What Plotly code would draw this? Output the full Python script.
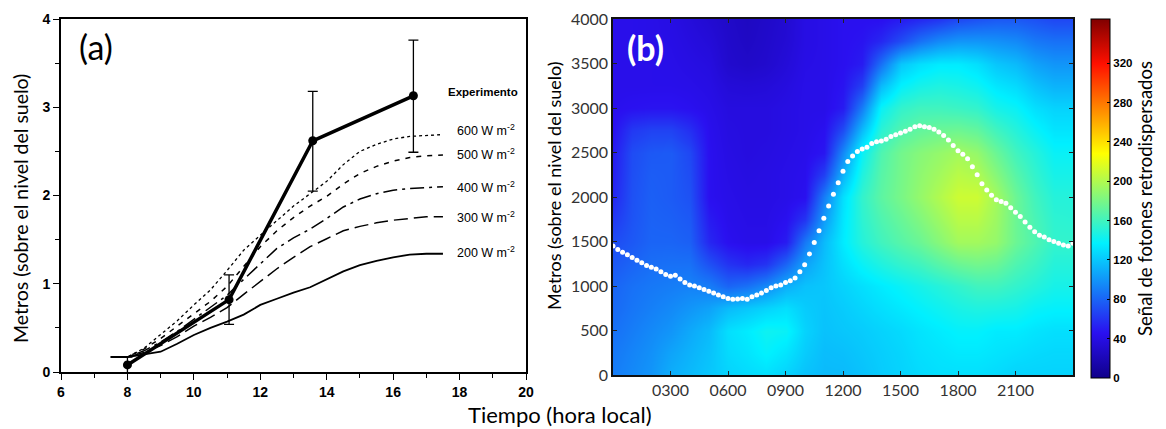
import plotly.graph_objects as go

# ---------------- Panel (a) data ----------------
t_model = [7.5, 8.0, 8.5, 9.0, 9.5, 10.0, 10.5, 11.0, 11.5, 12.0, 12.5, 13.0, 13.5,
           14.0, 14.5, 15.0, 15.5, 16.0, 16.5, 17.0, 17.5]
h600 = [0.17, 0.17, 0.27, 0.42, 0.58, 0.76, 0.93, 1.15, 1.38, 1.55, 1.72, 1.88, 2.02,
        2.16, 2.35, 2.50, 2.58, 2.64, 2.67, 2.68, 2.69]
h500 = [0.17, 0.17, 0.26, 0.38, 0.52, 0.66, 0.80, 0.97, 1.20, 1.42, 1.60, 1.75, 1.88,
        1.99, 2.13, 2.25, 2.33, 2.39, 2.43, 2.45, 2.46]
h400 = [0.17, 0.17, 0.24, 0.34, 0.46, 0.60, 0.73, 0.87, 1.05, 1.23, 1.40, 1.52, 1.62,
        1.74, 1.87, 1.96, 2.02, 2.06, 2.08, 2.09, 2.10]
h300 = [0.17, 0.17, 0.22, 0.30, 0.40, 0.52, 0.62, 0.73, 0.88, 1.03, 1.17, 1.30, 1.42,
        1.51, 1.60, 1.65, 1.69, 1.72, 1.74, 1.76, 1.76]
h200 = [0.17, 0.17, 0.20, 0.23, 0.32, 0.42, 0.50, 0.57, 0.65, 0.76, 0.83, 0.90, 0.96,
        1.05, 1.14, 1.21, 1.26, 1.30, 1.33, 1.34, 1.34]

t_exp = [8.0, 11.06, 13.58, 16.61]
h_exp = [0.08, 0.82, 2.62, 3.13]
err_up = [0.09, 0.28, 0.56, 0.63]
err_dn = [0.09, 0.28, 0.57, 0.64]

flux_labels = ["600 W m<sup>-2</sup>", "500 W m<sup>-2</sup>", "400 W m<sup>-2</sup>",
               "300 W m<sup>-2</sup>", "200 W m<sup>-2</sup>"]
label_y = [2.74, 2.47, 2.10, 1.76, 1.36]

# ---------------- Panel (b) data ----------------
hours = list(range(0, 25))
heights = [0, 250, 500, 750, 1000, 1250, 1500, 1750, 2000, 2250, 2500, 2750,
           3000, 3250, 3500, 3750, 4000]
signal = [
    [90, 95, 100, 110, 115, 120, 125, 128, 130, 125, 118, 115, 115, 118, 122, 125, 128, 130, 130, 130, 128, 125, 125, 125, 125],
    [88, 93, 98, 106, 112, 118, 128, 132, 138, 132, 122, 116, 117, 120, 123, 126, 130, 132, 134, 134, 132, 130, 128, 127, 127],
    [85, 90, 95, 100, 108, 115, 130, 135, 142, 140, 125, 118, 120, 122, 125, 128, 132, 135, 138, 138, 135, 135, 132, 130, 130],
    [82, 87, 91, 95, 100, 105, 115, 120, 125, 130, 122, 119, 122, 126, 130, 134, 138, 142, 146, 148, 147, 145, 140, 138, 138],
    [80, 85, 88, 90, 92, 90, 80, 85, 95, 110, 118, 120, 125, 130, 135, 140, 145, 150, 155, 160, 160, 155, 150, 145, 145],
    [75, 80, 84, 85, 85, 72, 60, 55, 60, 80, 105, 118, 130, 140, 148, 155, 160, 168, 175, 178, 175, 165, 158, 150, 150],
    [70, 75, 80, 80, 78, 55, 45, 42, 42, 50, 88, 115, 135, 150, 160, 168, 175, 185, 195, 195, 190, 175, 165, 155, 155],
    [62, 73, 79, 78, 75, 50, 43, 41, 41, 45, 60, 102, 133, 153, 165, 174, 183, 193, 203, 203, 193, 175, 163, 153, 152],
    [55, 72, 78, 76, 72, 45, 42, 40, 40, 42, 45, 90, 130, 155, 170, 180, 190, 200, 210, 210, 195, 175, 160, 150, 150],
    [52, 71, 77, 76, 70, 45, 41, 39, 40, 42, 44, 65, 112, 148, 168, 179, 188, 195, 203, 200, 185, 168, 155, 145, 145],
    [50, 70, 75, 76, 68, 45, 40, 38, 39, 41, 43, 48, 95, 140, 165, 178, 185, 190, 195, 190, 175, 160, 150, 140, 140],
    [46, 62, 66, 66, 58, 44, 39, 38, 38, 40, 42, 45, 70, 115, 152, 166, 172, 175, 176, 172, 160, 150, 140, 132, 132],
    [44, 46, 47, 47, 45, 42, 38, 38, 38, 40, 42, 42, 50, 90, 140, 155, 160, 160, 158, 155, 145, 140, 130, 125, 125],
    [43, 43, 43, 43, 42, 40, 35, 34, 35, 38, 42, 42, 47, 65, 115, 138, 145, 148, 146, 142, 133, 128, 118, 112, 112],
    [43, 43, 43, 42, 40, 38, 30, 28, 30, 35, 41, 42, 45, 50, 85, 120, 130, 135, 135, 130, 120, 115, 105, 100, 100],
    [43, 43, 42, 41, 38, 35, 29, 26, 29, 33, 40, 42, 45, 47, 55, 70, 85, 95, 100, 100, 98, 95, 88, 85, 85],
    [43, 43, 42, 40, 36, 32, 28, 25, 28, 32, 40, 42, 45, 45, 45, 50, 55, 60, 68, 72, 75, 75, 72, 68, 68],
]

mix_t = [i * 0.25 for i in range(97)]
mix_h = [1450, 1410, 1380, 1350, 1320, 1290, 1260, 1230, 1210, 1190, 1160, 1130, 1110,
         1120, 1080, 1040, 1010, 1000, 980, 960, 940, 920, 900, 880, 860, 850, 855, 860,
         850, 880, 900, 920, 950, 980, 1000, 1010, 1040, 1060, 1090, 1160, 1240, 1360,
         1490, 1620, 1760, 1900, 2030, 2160, 2290, 2400, 2460, 2510, 2540, 2560, 2600,
         2620, 2630, 2650, 2680, 2700, 2720, 2740, 2760, 2790, 2800, 2790, 2780, 2760,
         2730, 2690, 2640, 2580, 2520, 2480, 2430, 2340, 2250, 2150, 2080, 2020, 1970,
         1950, 1930, 1880, 1830, 1780, 1720, 1660, 1610, 1570, 1550, 1520, 1500, 1480,
         1460, 1450, 1480]

xtick_vals_b = [3, 6, 9, 12, 15, 18, 21]
xtick_text_b = ["0300", "0600", "0900", "1200", "1500", "1800", "2100"]
cbar_ticks = [0, 40, 80, 120, 160, 200, 240, 280, 320]

# The page body has an 8px margin; positions below are in window pixels
OFF = 8
W, H = 1158, 430
def px(x):
    return (x - OFF) / W
def py(y):
    return 1 - (y - OFF) / H

fig = go.Figure()

# ---- panel (a) traces ----
styles = [
    (h600, dict(color="black", width=1.3, dash="dot")),
    (h500, dict(color="black", width=1.5, dash="5px,6px")),
    (h400, dict(color="black", width=1.5, dash="14px,5px,3px,5px")),
    (h300, dict(color="black", width=1.5, dash="14px,6px")),
    (h200, dict(color="black", width=1.8)),
]
for hv, ln in styles:
    fig.add_trace(go.Scatter(x=t_model, y=hv, mode="lines", line=ln,
                             xaxis="x", yaxis="y", showlegend=False, hoverinfo="skip"))

fig.add_trace(go.Scatter(
    x=t_exp, y=h_exp, mode="lines+markers",
    line=dict(color="black", width=3.5),
    marker=dict(color="black", size=9),
    error_y=dict(type="data", symmetric=False, array=err_up, arrayminus=err_dn,
                 color="black", thickness=1.3, width=5),
    xaxis="x", yaxis="y", showlegend=False))

# ---- panel (b) traces ----
jet = [[0.0, "#10008a"], [0.125, "#2a10f0"], [0.375, "#00f0ff"], [0.625, "#ffff00"],
       [0.875, "#ff1000"], [1.0, "#800000"]]
fig.add_trace(go.Heatmap(
    x=hours, y=heights, z=signal, zmin=0, zmax=365, zsmooth="best",
    colorscale=jet, xaxis="x2", yaxis="y2",
    colorbar=dict(
        x=px(1091), xanchor="left", xpad=0, ypad=0,
        y=py(378), yanchor="bottom", len=(378 - 19) / H, lenmode="fraction",
        thickness=19, outlinecolor="black", outlinewidth=1,
        tickvals=cbar_ticks, ticks="inside", ticklen=3, tickcolor="black",
        tickfont=dict(family="Liberation Sans", size=11.5, color="black", weight="bold"),
        title=dict(text="Señal de fotones retrodispersados", side="right",
                   font=dict(family="Lato", size=18.5, color="black")),
    ),
    hoverinfo="skip"))

fig.add_trace(go.Scatter(
    x=mix_t, y=mix_h, mode="markers",
    marker=dict(color="white", size=5, line=dict(width=0)),
    xaxis="x2", yaxis="y2", showlegend=False, hoverinfo="skip"))

# ---- annotations ----
C = dict(xanchor="center", yanchor="middle", showarrow=False)
ann = []
ann.append(dict(x=7.05, y=3.69, xref="x", yref="y", text="(a)",
                font=dict(family="Lato", size=34, color="black"), **C))
ann.append(dict(x=18.7, y=3.17, xref="x", yref="y", text="Experimento",
                font=dict(family="Liberation Sans", size=11.5, color="black", weight="bold"), **C))
for txt, yy in zip(flux_labels, label_y):
    ann.append(dict(x=18.8, y=yy, xref="x", yref="y", text=txt,
                    font=dict(family="Liberation Sans", size=12.5, color="black"), **C))
ann.append(dict(x=1.72, y=3680, xref="x2", yref="y2", text="<b>(b)</b>",
                font=dict(family="Lato", size=34, color="white"), **C))
ann.append(dict(x=px(560), y=py(414), xref="paper", yref="paper",
                text="Tiempo (hora local)",
                font=dict(family="Lato", size=22, color="black"), **C))
ann.append(dict(x=px(20), y=py(209), xref="paper", yref="paper", textangle=-90,
                text="Metros (sobre el nivel del suelo)",
                font=dict(family="Lato", size=19.5, color="black"), **C))
ann.append(dict(x=px(554), y=py(186), xref="paper", yref="paper", textangle=-90,
                text="Metros (sobre el nivel del suelo)",
                font=dict(family="Lato", size=18, color="black"), **C))

bold_tick = dict(family="Liberation Sans", size=14, color="black", weight="bold")
tick_b = dict(family="Lato", size=16, color="#333")
fig.update_layout(
    width=W, height=H, margin=dict(l=0, r=0, t=0, b=0, autoexpand=False),
    paper_bgcolor="white", plot_bgcolor="white",
    annotations=ann,
    xaxis=dict(domain=[px(61), px(526)], range=[6, 20], tickvals=[6, 8, 10, 12, 14, 16, 18, 20],
               ticks="outside", ticklen=6, tickwidth=1.2, tickcolor="black",
               minor=dict(dtick=1, ticks="outside", ticklen=4, tickcolor="black"),
               showline=True, linecolor="black", linewidth=2, mirror=True,
               showgrid=False, zeroline=False, tickfont=bold_tick, anchor="y",
               automargin=False),
    yaxis=dict(domain=[py(372), py(19)], range=[0, 4], tickvals=[0, 1, 2, 3, 4],
               ticks="outside", ticklen=6, tickwidth=1.2, tickcolor="black",
               minor=dict(dtick=0.5, ticks="outside", ticklen=4, tickcolor="black"),
               showline=True, linecolor="black", linewidth=1.6, mirror=True,
               showgrid=False, zeroline=False, tickfont=bold_tick, anchor="x",
               automargin=False),
    xaxis2=dict(domain=[px(613), px(1073)], range=[0, 24], tickvals=xtick_vals_b,
                ticktext=xtick_text_b, ticks="inside", ticklen=4, tickcolor="#222",
                showline=True, linecolor="#111", linewidth=1.5, mirror="ticks",
                showgrid=False, zeroline=False, tickfont=tick_b, anchor="y2",
                automargin=False),
    yaxis2=dict(domain=[py(375), py(19)], range=[0, 4000], dtick=500,
                ticks="inside", ticklen=4, tickcolor="#222",
                showline=True, linecolor="#111", linewidth=1.5, mirror="ticks",
                showgrid=False, zeroline=False, tickfont=tick_b, anchor="x2",
                automargin=False),
)

fig.write_html("out.html")
